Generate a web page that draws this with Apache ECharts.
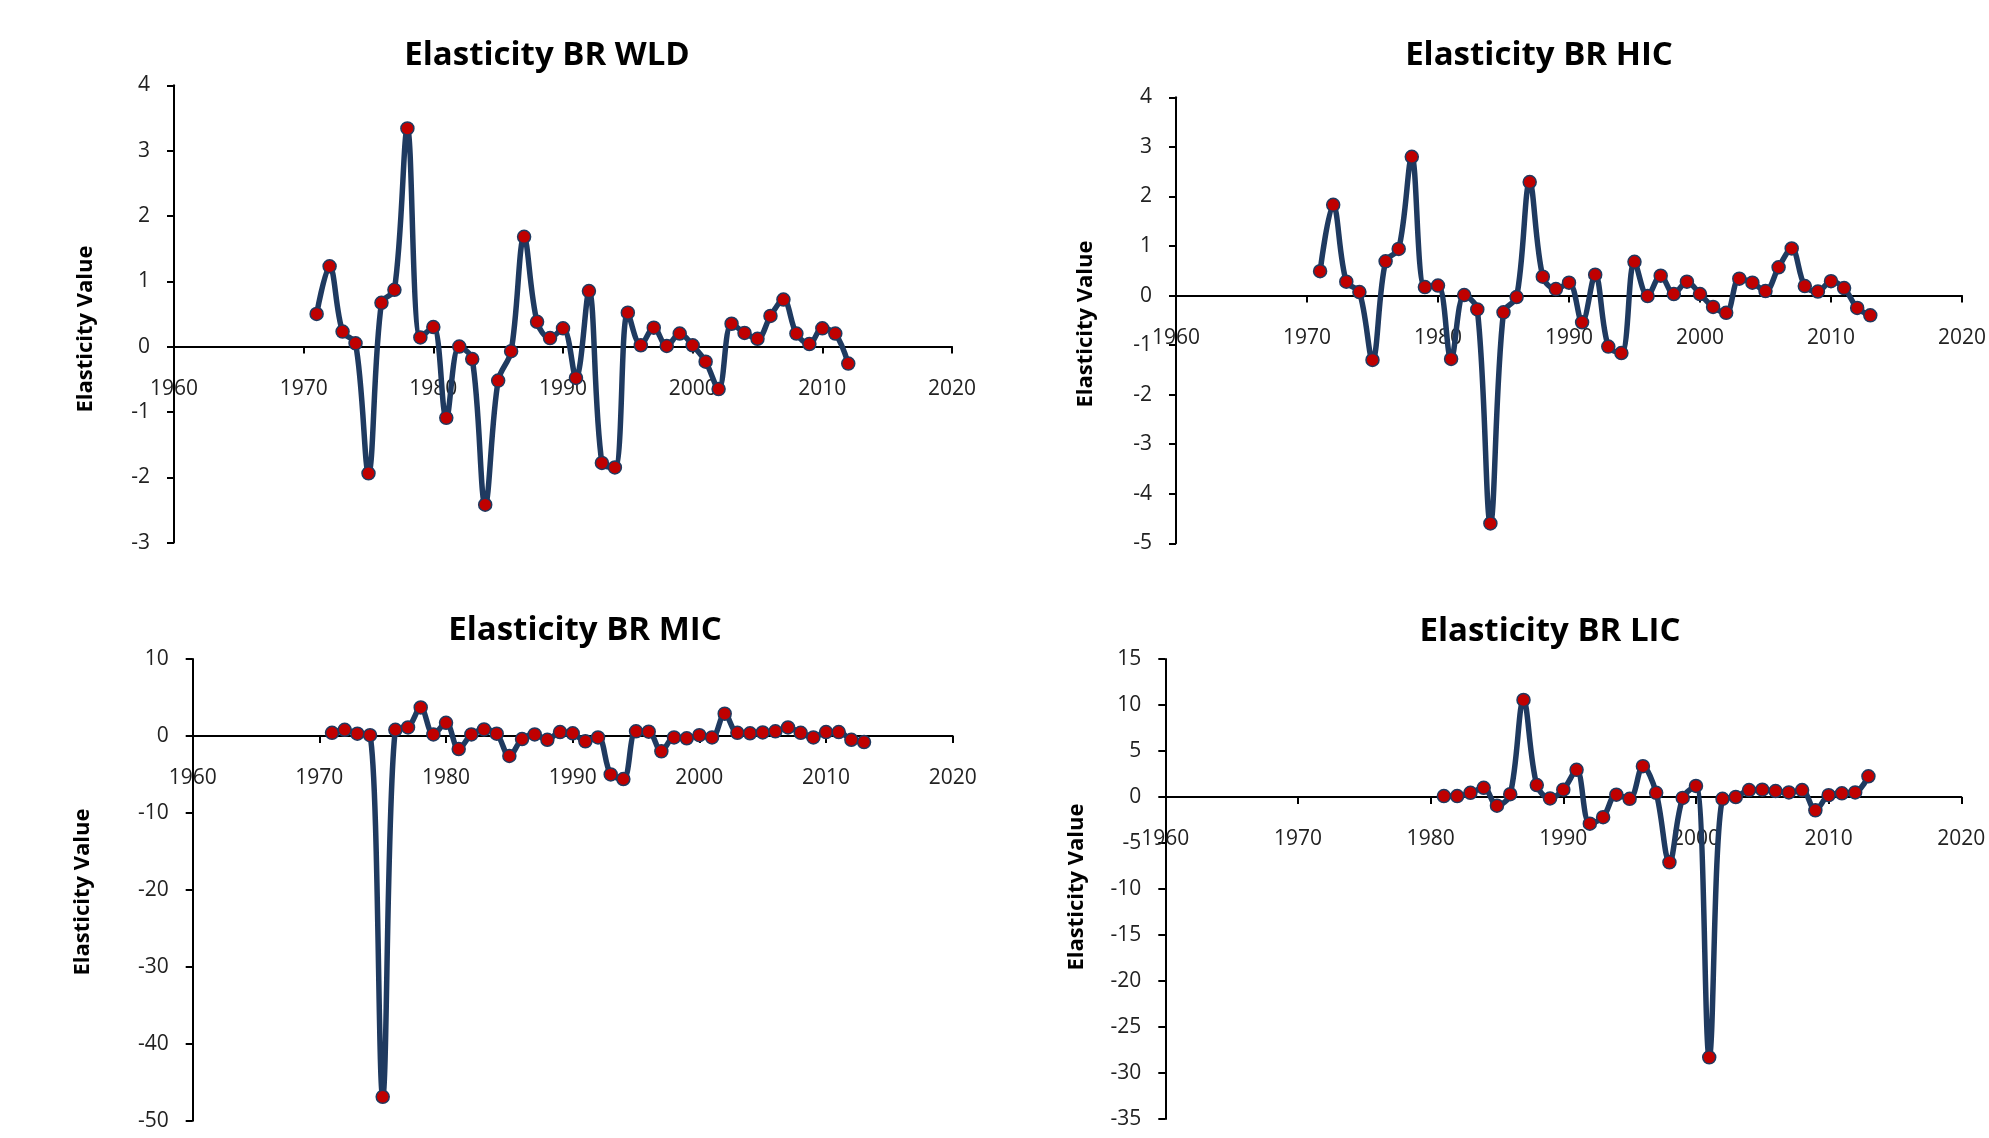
<!DOCTYPE html>
<html>
<head>
<meta charset="utf-8">
<script src="https://cdn.jsdelivr.net/npm/echarts@6/dist/echarts.min.js"></script>
<style>
html,body{margin:0;padding:0;background:#fff;}
#chart{width:1989px;height:1138px;}
</style>
</head>
<body>
<div id="chart"></div>
<script>
// ---- data ----
var titles = ['Elasticity BR WLD', 'Elasticity BR HIC', 'Elasticity BR MIC', 'Elasticity BR LIC'];
var yAxisName = 'Elasticity Value';
var startYears = [1971, 1971, 1971, 1981];
var wld = [0.50,1.23,0.23,0.05,-1.94,0.67,0.87,3.34,0.14,0.30,-1.09,0.00,-0.19,-2.42,-0.52,-0.07,1.68,0.38,0.13,0.28,-0.48,0.85,-1.78,-1.85,0.52,0.02,0.29,0.01,0.20,0.02,-0.23,-0.65,0.35,0.21,0.12,0.47,0.72,0.20,0.04,0.28,0.20,-0.26];
var hic = [0.49,1.83,0.28,0.07,-1.30,0.69,0.94,2.80,0.17,0.20,-1.28,0.01,-0.28,-4.60,-0.34,-0.03,2.29,0.38,0.13,0.26,-0.54,0.42,-1.03,-1.16,0.68,-0.01,0.40,0.03,0.28,0.03,-0.23,-0.35,0.34,0.26,0.09,0.57,0.95,0.19,0.08,0.29,0.15,-0.25,-0.40];
var mic = [0.4,0.8,0.3,0.1,-46.9,0.8,1.1,3.7,0.2,1.7,-1.7,0.2,0.85,0.3,-2.6,-0.4,0.2,-0.5,0.5,0.35,-0.7,-0.2,-5.0,-5.6,0.6,0.55,-2.0,-0.2,-0.3,0.1,-0.2,2.9,0.4,0.35,0.45,0.6,1.1,0.4,-0.2,0.5,0.5,-0.5,-0.8];
var lic = [0.1,0.1,0.45,1.0,-0.95,0.3,10.55,1.3,-0.15,0.8,2.95,-2.9,-2.2,0.25,-0.2,3.35,0.45,-7.1,-0.1,1.2,-28.3,-0.2,0.0,0.75,0.8,0.65,0.5,0.75,-1.45,0.2,0.4,0.5,2.25];
var xMin = 1960, xMax = 2020, xStep = 10;
var yMins = [-3, -5, -50, -35];
var yMaxs = [4, 4, 10, 15];
var yStep = [1, 1, 10, 5];

// ---- layout ----
var series = [wld, hic, mic, lic];
var grids = [
  {left:174, top:85.3, width:778, height:457.3},
  {left:1176, top:97.3, width:786, height:446},
  {left:192.7, top:659, width:760, height:461.7},
  {left:1165.3, top:659, width:796, height:460}
];
var titlePos = [[547,55.5],[1539,55.5],[585,630.5],[1550,631.5]];
var namePos = [[85.5,329],[1086,324],[82.5,892],[1077,887]];

var LINE = '#1F3A60';
var DOT = '#C00000';
var tickFont = '"Open Sans", "Liberation Sans", sans-serif';

var option = {
  animation:false,
  backgroundColor:'#fff',
  grid:[], xAxis:[], yAxis:[], series:[], graphic:[]
};
for (var i=0;i<4;i++){
  var g = grids[i];
  // shift the x axis (line, ticks, labels) from the grid bottom up to y = 0
  var zeroShift = g.height * (0 - yMins[i]) / (yMaxs[i] - yMins[i]);
  option.grid.push({left:g.left, top:g.top, width:g.width, height:g.height, containLabel:false});
  option.xAxis.push({
    type:'value', gridIndex:i, min:xMin, max:xMax, interval:xStep, position:'bottom',
    offset:-zeroShift,
    axisLine:{show:true, onZero:false, lineStyle:{color:'#000', width:2}},
    axisTick:{show:true, length:7, lineStyle:{color:'#000', width:2}},
    axisLabel:{color:'#222', fontSize:21, fontFamily:tickFont, margin:32, formatter:function(v){return String(v);}},
    splitLine:{show:false}
  });
  option.yAxis.push({
    type:'value', gridIndex:i, min:yMins[i], max:yMaxs[i], interval:yStep[i], position:'left',
    axisLine:{show:true, onZero:false, lineStyle:{color:'#000', width:2}},
    axisTick:{show:true, length:7, lineStyle:{color:'#000', width:2}},
    axisLabel:{color:'#222', fontSize:21, fontFamily:tickFont, margin:24},
    splitLine:{show:false}
  });
  var d = series[i].map(function(v,k){ return [startYears[i]+k, v]; });
  option.series.push({
    type:'line', xAxisIndex:i, yAxisIndex:i, data:d,
    smooth:0.35,
    symbol:'circle', symbolSize:13,
    lineStyle:{color:LINE, width:5.5},
    itemStyle:{color:DOT, borderColor:LINE, borderWidth:1.5},
    z:3
  });
  option.graphic.push({
    type:'text', x:titlePos[i][0], y:titlePos[i][1], z:10,
    style:{text:titles[i], fill:'#000', font:'bold 33px "Open Sans", "Liberation Sans", sans-serif', textAlign:'center', textVerticalAlign:'middle'}
  });
  option.graphic.push({
    type:'text', x:namePos[i][0], y:namePos[i][1], rotation:Math.PI/2, z:10,
    style:{text:yAxisName, fill:'#000', font:'bold 22px "Open Sans", "Liberation Sans", sans-serif', textAlign:'center', textVerticalAlign:'middle'}
  });
}
var chart = echarts.init(document.getElementById('chart'), null, {renderer:'canvas'});
chart.setOption(option);
</script>
</body>
</html>
